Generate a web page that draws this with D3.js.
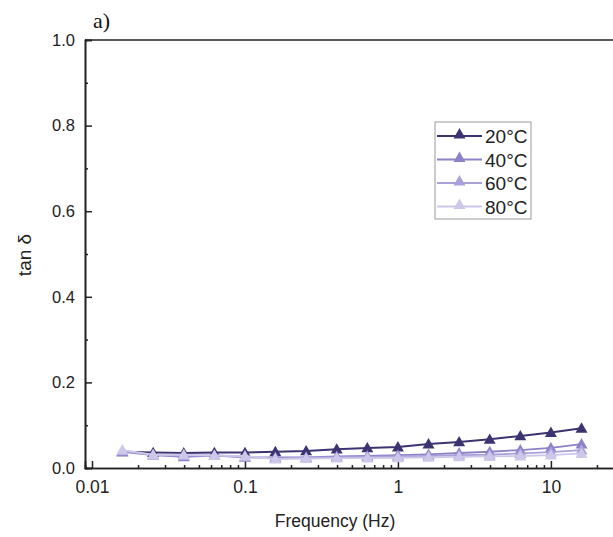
<!DOCTYPE html>
<html>
<head>
<meta charset="utf-8">
<script src="https://cdn.jsdelivr.net/npm/d3@7"></script>
<style>
  body { margin: 0; background: #fff; }
</style>
</head>
<body>
<svg id="chart"></svg>
<script>
// data
const frequency = [0.0158, 0.0251, 0.0398, 0.0631, 0.1, 0.158, 0.251, 0.398, 0.631, 1, 1.585, 2.512, 3.981, 6.31, 10, 15.85];
const seriesNames = ["20°C", "40°C", "60°C", "80°C"];
const seriesColors = ["#3c3470", "#8c82c8", "#a9a1d8", "#cdc8ea"];
const tan20 = [0.038, 0.036, 0.035, 0.036, 0.036, 0.038, 0.040, 0.044, 0.047, 0.049, 0.056, 0.061, 0.067, 0.075, 0.083, 0.093];
const tan40 = [0.038, 0.030, 0.026, 0.029, 0.025, 0.025, 0.025, 0.027, 0.028, 0.030, 0.032, 0.035, 0.038, 0.042, 0.047, 0.056];
const tan60 = [0.040, 0.030, 0.029, 0.030, 0.026, 0.022, 0.024, 0.025, 0.026, 0.027, 0.028, 0.030, 0.031, 0.034, 0.037, 0.042];
const tan80 = [0.042, 0.031, 0.031, 0.029, 0.028, 0.021, 0.022, 0.023, 0.023, 0.024, 0.025, 0.026, 0.027, 0.028, 0.030, 0.034];
const yTicks = [0.0, 0.2, 0.4, 0.6, 0.8, 1.0];
const xTicks = [0.01, 0.1, 1, 10];

const width = 613, height = 537;
const margin = { left: 85, top: 40, bottom: 69 };
const sans = "'Liberation Sans', Arial, sans-serif";

const svg = d3.select("#chart")
    .attr("width", width)
    .attr("height", height)
    .style("font-family", sans);

const x = d3.scaleLog().domain([0.009, 40]).range([margin.left, 643]);
const y = d3.scaleLinear().domain([0, 1]).range([height - margin.bottom, margin.top]);

const g = svg.append("g");

// top frame line
g.append("line")
    .attr("x1", margin.left).attr("x2", width + 5)
    .attr("y1", y(1)).attr("y2", y(1))
    .attr("stroke", "#222").attr("stroke-width", 1.6);

// x axis, ticks pointing inward
const minorX = [];
[0.01, 0.1, 1, 10].forEach(d => { for (let k = 2; k <= 9; k++) minorX.push(d * k); });
const xAxis = g.append("g").attr("transform", "translate(0," + y(0) + ")");
xAxis.call(d3.axisBottom(x).tickValues(minorX.filter(v => v < 40)).tickSize(-3).tickFormat(""));
xAxis.append("g").call(d3.axisBottom(x).tickValues(xTicks).tickSize(-7).tickPadding(13).tickFormat(d3.format("~g")));
xAxis.selectAll(".domain").attr("stroke", "#222").attr("stroke-width", 1.6);
xAxis.selectAll(".tick line").attr("stroke", "#222").attr("stroke-width", 1.5);
xAxis.selectAll("text").attr("font-size", 17.5).attr("fill", "#222").attr("font-family", sans);

// y axis
const yAxis = g.append("g").attr("transform", "translate(" + margin.left + ",0)");
yAxis.call(d3.axisLeft(y).tickValues([0.1, 0.3, 0.5, 0.7, 0.9]).tickSize(-3).tickFormat(""));
yAxis.append("g").call(d3.axisLeft(y).tickValues(yTicks).tickSize(-7).tickPadding(10).tickFormat(d3.format(".1f")));
yAxis.selectAll(".domain").attr("stroke", "#222").attr("stroke-width", 1.6);
yAxis.selectAll(".tick line").attr("stroke", "#222").attr("stroke-width", 1.5);
yAxis.selectAll("text").attr("font-size", 16.5).attr("fill", "#222").attr("font-family", sans);

// axis titles
svg.append("text")
    .attr("x", 335).attr("y", 527)
    .attr("text-anchor", "middle").attr("font-size", 17.5).attr("fill", "#222")
    .text("Frequency (Hz)");
svg.append("text")
    .attr("transform", "translate(31,255) rotate(-90)")
    .attr("text-anchor", "middle").attr("font-size", 19).attr("fill", "#222")
    .text("tan δ");
svg.append("text")
    .attr("x", 93).attr("y", 28)
    .style("font-family", "'Liberation Serif', 'Times New Roman', serif")
    .attr("font-size", 22).attr("fill", "#111")
    .text("a)");

// series
const allSeries = [tan20, tan40, tan60, tan80];
const line = d3.line().x((d, i) => x(frequency[i])).y(d => y(d));
const tri = d3.symbol().type(d3.symbolTriangle).size(62);

allSeries.forEach((vals, s) => {
    const sg = g.append("g");
    sg.append("path")
        .datum(vals)
        .attr("d", line)
        .attr("fill", "none")
        .attr("stroke", seriesColors[s])
        .attr("stroke-width", s === 0 ? 2 : 1.8);
    sg.selectAll("path.pt")
        .data(vals)
        .enter()
        .append("path")
        .attr("class", "pt")
        .attr("d", tri)
        .attr("transform", (d, i) => "translate(" + x(frequency[i]) + "," + (y(d) + 1) + ")")
        .attr("fill", seriesColors[s]);
});

// legend
const legend = svg.append("g").attr("transform", "translate(435,122)");
legend.append("rect")
    .attr("width", 96).attr("height", 97)
    .attr("fill", "#fff").attr("stroke", "#999").attr("stroke-width", 1);
seriesNames.forEach((name, i) => {
    const ly = 14 + i * 23.5;
    legend.append("line")
        .attr("x1", 2).attr("x2", 47).attr("y1", ly).attr("y2", ly)
        .attr("stroke", seriesColors[i]).attr("stroke-width", 2);
    legend.append("path")
        .attr("d", tri)
        .attr("transform", "translate(24.5," + (ly - 1) + ")")
        .attr("fill", seriesColors[i]);
    legend.append("text")
        .attr("x", 50).attr("y", ly + 7)
        .attr("font-size", 19).attr("fill", "#222")
        .text(name);
});
</script>
</body>
</html>
